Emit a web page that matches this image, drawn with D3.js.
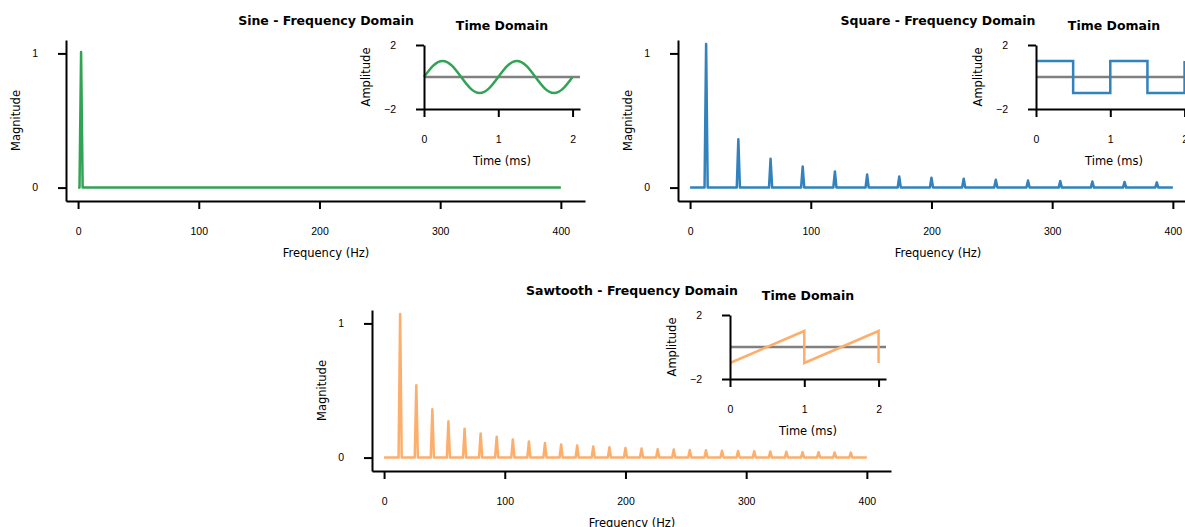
<!DOCTYPE html>
<html>
<head>
<meta charset="utf-8">
<script src="https://cdn.jsdelivr.net/npm/d3@7"></script>
<style>
  body { margin: 0; background: #fff; }
  svg { display: block; font-family: "DejaVu Sans", sans-serif; }
  .domain { stroke: #000; stroke-width: 2; }
  .tick line { stroke: #000; stroke-width: 2; }
  .tick text { font-size: 10.5px; fill: #000; }
</style>
</head>
<body>
<svg id="chart" width="1185" height="527"></svg>
<script>
'use strict';

// tick values
var freqTicks = [0, 100, 200, 300, 400];
var magTicks = [0, 1];
var timeTicks = [0, 1, 2];
var ampTicks = [-2, 2];

// frequency domain peaks
var sinePeakFreq = [2.5];
var sinePeakMag = [1.01];

var squarePeakFreq = [13.3, 40, 66.7, 93.3, 120, 146.7, 173.3, 200, 226.7, 253.3, 280, 306.7, 333.3, 360, 386.7];
var squarePeakMag = [1.07, 0.36, 0.215, 0.157, 0.12, 0.097, 0.082, 0.074, 0.066, 0.059, 0.053, 0.048, 0.045, 0.042, 0.039];

var sawPeakFreq = [13.3, 26.7, 40, 53.3, 66.7, 80, 93.3, 106.7, 120, 133.3, 146.7, 160, 173.3, 186.7, 200,
  213.3, 226.7, 240, 253.3, 266.7, 280, 293.3, 306.7, 320, 333.3, 346.7, 360, 373.3, 386.7];
var sawPeakMag = [1.07, 0.54, 0.36, 0.27, 0.215, 0.18, 0.155, 0.135, 0.12, 0.108, 0.098, 0.09, 0.083, 0.077, 0.072,
  0.067, 0.063, 0.06, 0.057, 0.054, 0.051, 0.049, 0.047, 0.045, 0.043, 0.041, 0.04, 0.038, 0.037];

// time domain samples
var sineTime = [0, 0.125, 0.25, 0.375, 0.5, 0.625, 0.75, 0.875, 1, 1.125, 1.25, 1.375, 1.5, 1.625, 1.75, 1.875, 2];
var sineAmp  = [0, 0.71, 1, 0.71, 0, -0.71, -1, -0.71, 0, 0.71, 1, 0.71, 0, -0.71, -1, -0.71, 0];

var squareTime = [0, 0.5, 0.5, 1, 1, 1.5, 1.5, 2, 2];
var squareAmp  = [1, 1, -1, -1, 1, 1, -1, -1, 1];

var sawTime = [0, 1, 1, 2, 2];
var sawAmp  = [-1, 1, -1, 1, -1];

var panels = [
  { ox: 0,   oy: 0,   title: 'Sine - Frequency Domain',     color: '#31a354',
    pf: sinePeakFreq, pm: sinePeakMag, t: sineTime, a: sineAmp, curve: d3.curveNatural },
  { ox: 612, oy: 0,   title: 'Square - Frequency Domain',   color: '#3182bd',
    pf: squarePeakFreq, pm: squarePeakMag, t: squareTime, a: squareAmp, curve: d3.curveLinear },
  { ox: 306, oy: 270, title: 'Sawtooth - Frequency Domain', color: '#fdae6b',
    pf: sawPeakFreq, pm: sawPeakMag, t: sawTime, a: sawAmp, curve: d3.curveLinear }
];

var svg = d3.select('#chart');
var halfWidth = 1.3; // half base of each spectral spike in Hz
var fmt = d3.format('d');

function spectrum(pf, pm) {
  var pts = [[0, 0]];
  pf.forEach(function(f, i) {
    pts.push([f - halfWidth, 0], [f, pm[i]], [f + halfWidth, 0]);
  });
  pts.push([400, 0]);
  return pts;
}

panels.forEach(function(p) {
  var g = svg.append('g').attr('transform', 'translate(' + p.ox + ',' + p.oy + ')');

  // main frequency axes
  var x = d3.scaleLinear().domain([-10, 420]).range([66, 585]);
  var y = d3.scaleLinear().domain([-0.1, 1.1]).range([201, 40]);

  g.append('g').attr('transform', 'translate(0,201)')
    .call(d3.axisBottom(x).tickValues(freqTicks).tickFormat(fmt).tickSize(8).tickSizeOuter(0).tickPadding(19));
  g.append('g').attr('transform', 'translate(66,0)')
    .call(d3.axisLeft(y).tickValues(magTicks).tickFormat(fmt).tickSize(8).tickSizeOuter(0).tickPadding(20));

  g.append('path')
    .datum(spectrum(p.pf, p.pm))
    .attr('fill', 'none')
    .attr('stroke', p.color)
    .attr('stroke-width', 2.5)
    .attr('stroke-linejoin', 'round')
    .attr('d', d3.line().x(function(d) { return x(d[0]); }).y(function(d) { return y(d[1]); }));

  g.append('text').text(p.title)
    .attr('x', 326).attr('y', 24.5).attr('text-anchor', 'middle')
    .attr('font-size', 12.5).attr('font-weight', 'bold');
  g.append('text').text('Frequency (Hz)')
    .attr('x', 326).attr('y', 257).attr('text-anchor', 'middle').attr('font-size', 11.5);
  g.append('text').text('Magnitude')
    .attr('transform', 'translate(20,120.5) rotate(-90)')
    .attr('text-anchor', 'middle').attr('font-size', 11.5);

  // inset time domain axes
  var tx = d3.scaleLinear().domain([0, 2.1]).range([424, 580]);
  var ty = d3.scaleLinear().domain([-2, 2]).range([109, 45]);

  g.append('path')
    .datum([0, 2.1])
    .attr('fill', 'none')
    .attr('stroke', '#808080')
    .attr('stroke-width', 2.5)
    .attr('d', d3.line().x(function(d) { return tx(d); }).y(function() { return ty(0); }));

  g.append('path')
    .datum(d3.zip(p.t, p.a))
    .attr('fill', 'none')
    .attr('stroke', p.color)
    .attr('stroke-width', 2.5)
    .attr('d', d3.line().curve(p.curve)
      .x(function(d) { return tx(d[0]); }).y(function(d) { return ty(d[1]); }));

  g.append('g').attr('transform', 'translate(0,109)')
    .call(d3.axisBottom(tx).tickValues(timeTicks).tickFormat(fmt).tickSize(8).tickSizeOuter(0).tickPadding(19));
  g.append('g').attr('transform', 'translate(424,0)')
    .call(d3.axisLeft(ty).tickValues(ampTicks).tickFormat(fmt).tickSize(8).tickSizeOuter(0).tickPadding(20));

  g.append('text').text('Time Domain')
    .attr('x', 502).attr('y', 29.5).attr('text-anchor', 'middle')
    .attr('font-size', 12.5).attr('font-weight', 'bold');
  g.append('text').text('Time (ms)')
    .attr('x', 502).attr('y', 165).attr('text-anchor', 'middle').attr('font-size', 11.5);
  g.append('text').text('Amplitude')
    .attr('transform', 'translate(370,77) rotate(-90)')
    .attr('text-anchor', 'middle').attr('font-size', 11.5);
});
</script>
</body>
</html>
